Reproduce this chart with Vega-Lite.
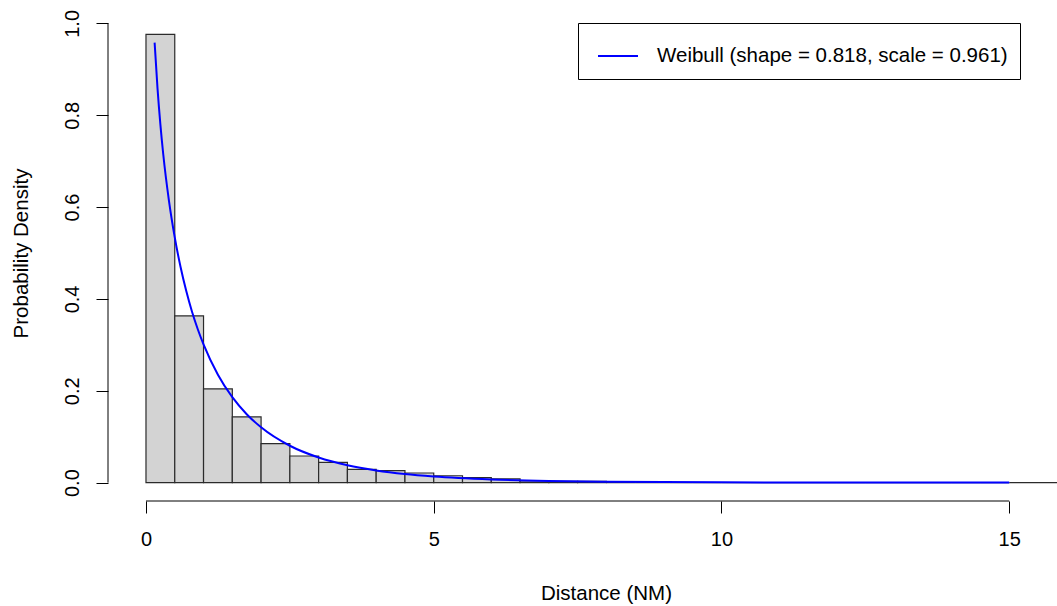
{
  "$schema": "https://vega.github.io/schema/vega-lite/v6.json",
  "width": 949,
  "height": 496,
  "autosize": {"type": "none"},
  "padding": {"left": 108, "top": 5, "right": 0, "bottom": 105},
  "background": "white",
  "config": {
    "view": {"stroke": null},
    "font": "Liberation Sans",
    "axis": {
      "grid": false,
      "domain": false,
      "tickColor": "#000",
      "tickWidth": 1,
      "tickSize": 12,
      "labelFont": "Liberation Sans",
      "labelFontSize": 20,
      "labelColor": "#000",
      "titleFont": "Liberation Sans",
      "titleFontSize": 20.5,
      "titleFontWeight": "normal",
      "titleColor": "#000"
    },
    "legend": {
      "orient": "none",
      "legendX": 470,
      "legendY": 18,
      "strokeColor": "#000",
      "fillColor": "white",
      "padding": 12,
      "symbolType": "stroke",
      "symbolSize": 1600,
      "symbolStrokeWidth": 2,
      "symbolOffset": 7,
      "labelOffset": 18,
      "labelFont": "Liberation Sans",
      "labelFontSize": 20.5,
      "labelColor": "#000",
      "labelLimit": 600
    }
  },
  "datasets": {
    "bins": [
      {"bin_start": 0.0, "bin_end": 0.5, "density": 0.976},
      {"bin_start": 0.5, "bin_end": 1.0, "density": 0.363},
      {"bin_start": 1.0, "bin_end": 1.5, "density": 0.204},
      {"bin_start": 1.5, "bin_end": 2.0, "density": 0.143},
      {"bin_start": 2.0, "bin_end": 2.5, "density": 0.085},
      {"bin_start": 2.5, "bin_end": 3.0, "density": 0.058},
      {"bin_start": 3.0, "bin_end": 3.5, "density": 0.044},
      {"bin_start": 3.5, "bin_end": 4.0, "density": 0.029},
      {"bin_start": 4.0, "bin_end": 4.5, "density": 0.026},
      {"bin_start": 4.5, "bin_end": 5.0, "density": 0.021},
      {"bin_start": 5.0, "bin_end": 5.5, "density": 0.015},
      {"bin_start": 5.5, "bin_end": 6.0, "density": 0.011},
      {"bin_start": 6.0, "bin_end": 6.5, "density": 0.008},
      {"bin_start": 6.5, "bin_end": 7.0, "density": 0.0035},
      {"bin_start": 7.0, "bin_end": 7.5, "density": 0.003},
      {"bin_start": 7.5, "bin_end": 8.0, "density": 0.003},
      {"bin_start": 8.0, "bin_end": 8.5, "density": 0},
      {"bin_start": 8.5, "bin_end": 9.0, "density": 0},
      {"bin_start": 9.0, "bin_end": 9.5, "density": 0},
      {"bin_start": 9.5, "bin_end": 10.0, "density": 0},
      {"bin_start": 10.0, "bin_end": 10.5, "density": 0},
      {"bin_start": 10.5, "bin_end": 11.0, "density": 0},
      {"bin_start": 11.0, "bin_end": 11.5, "density": 0},
      {"bin_start": 11.5, "bin_end": 12.0, "density": 0},
      {"bin_start": 12.0, "bin_end": 12.5, "density": 0},
      {"bin_start": 12.5, "bin_end": 13.0, "density": 0},
      {"bin_start": 13.0, "bin_end": 13.5, "density": 0},
      {"bin_start": 13.5, "bin_end": 14.0, "density": 0},
      {"bin_start": 14.0, "bin_end": 14.5, "density": 0},
      {"bin_start": 14.5, "bin_end": 15.0, "density": 0},
      {"bin_start": 15.0, "bin_end": 15.5, "density": 0},
      {"bin_start": 15.5, "bin_end": 16.0, "density": 0},
      {"bin_start": 16.0, "bin_end": 16.5, "density": 0}
    ],
    "curve": [
      {"distance": 0.15, "density": 0.958, "series": "Weibull (shape = 0.818, scale = 0.961)"},
      {"distance": 0.2, "density": 0.859, "series": "Weibull (shape = 0.818, scale = 0.961)"},
      {"distance": 0.25, "density": 0.780, "series": "Weibull (shape = 0.818, scale = 0.961)"},
      {"distance": 0.3, "density": 0.715, "series": "Weibull (shape = 0.818, scale = 0.961)"},
      {"distance": 0.4, "density": 0.613, "series": "Weibull (shape = 0.818, scale = 0.961)"},
      {"distance": 0.5, "density": 0.534, "series": "Weibull (shape = 0.818, scale = 0.961)"},
      {"distance": 0.6, "density": 0.470, "series": "Weibull (shape = 0.818, scale = 0.961)"},
      {"distance": 0.7, "density": 0.417, "series": "Weibull (shape = 0.818, scale = 0.961)"},
      {"distance": 0.8, "density": 0.372, "series": "Weibull (shape = 0.818, scale = 0.961)"},
      {"distance": 0.9, "density": 0.334, "series": "Weibull (shape = 0.818, scale = 0.961)"},
      {"distance": 1.0, "density": 0.301, "series": "Weibull (shape = 0.818, scale = 0.961)"},
      {"distance": 1.25, "density": 0.235, "series": "Weibull (shape = 0.818, scale = 0.961)"},
      {"distance": 1.5, "density": 0.186, "series": "Weibull (shape = 0.818, scale = 0.961)"},
      {"distance": 1.75, "density": 0.149, "series": "Weibull (shape = 0.818, scale = 0.961)"},
      {"distance": 2.0, "density": 0.1205, "series": "Weibull (shape = 0.818, scale = 0.961)"},
      {"distance": 2.5, "density": 0.0803, "series": "Weibull (shape = 0.818, scale = 0.961)"},
      {"distance": 3.0, "density": 0.0547, "series": "Weibull (shape = 0.818, scale = 0.961)"},
      {"distance": 3.5, "density": 0.0378, "series": "Weibull (shape = 0.818, scale = 0.961)"},
      {"distance": 4.0, "density": 0.0265, "series": "Weibull (shape = 0.818, scale = 0.961)"},
      {"distance": 4.5, "density": 0.0187, "series": "Weibull (shape = 0.818, scale = 0.961)"},
      {"distance": 5.0, "density": 0.0134, "series": "Weibull (shape = 0.818, scale = 0.961)"},
      {"distance": 6.0, "density": 0.0070, "series": "Weibull (shape = 0.818, scale = 0.961)"},
      {"distance": 7.0, "density": 0.0037, "series": "Weibull (shape = 0.818, scale = 0.961)"},
      {"distance": 8.0, "density": 0.0020, "series": "Weibull (shape = 0.818, scale = 0.961)"},
      {"distance": 10.0, "density": 0.0006, "series": "Weibull (shape = 0.818, scale = 0.961)"},
      {"distance": 12.0, "density": 0.0002, "series": "Weibull (shape = 0.818, scale = 0.961)"},
      {"distance": 15.0, "density": 0.00002, "series": "Weibull (shape = 0.818, scale = 0.961)"}
    ]
  },
  "layer": [
    {
      "data": {"name": "bins"},
      "mark": {"type": "rect", "fill": "#D3D3D3", "stroke": "#2b2b2b", "strokeWidth": 1.2, "clip": true},
      "encoding": {
        "x": {
          "field": "bin_start", "type": "quantitative",
          "scale": {"domain": [-0.66, 15.83], "nice": false, "zero": false},
          "axis": {"values": [0, 5, 10, 15], "format": "d", "title": "Distance (NM)", "labelPadding": 16, "titlePadding": 34, "titleX": 498, "titleAnchor": "middle"}
        },
        "x2": {"field": "bin_end"},
        "y": {
          "field": "density", "type": "quantitative",
          "scale": {"domain": [-0.04, 1.04], "nice": false, "zero": false},
          "axis": {"values": [0, 0.2, 0.4, 0.6, 0.8, 1.0], "format": ".1f", "title": "Probability Density", "labelAngle": 270, "labelAlign": "center", "labelBaseline": "bottom", "labelPadding": 14, "titlePadding": 31}
        },
        "y2": {"datum": 0}
      }
    },
    {
      "data": {"name": "curve"},
      "mark": {"type": "line", "strokeWidth": 2, "interpolate": "monotone", "clip": true},
      "encoding": {
        "x": {"field": "distance", "type": "quantitative"},
        "y": {"field": "density", "type": "quantitative"},
        "color": {
          "field": "series", "type": "nominal",
          "scale": {"range": ["#0000FF"]},
          "legend": {"title": null}
        }
      }
    },
    {
      "data": {"values": [{}]},
      "mark": {"type": "rule", "color": "#000", "strokeWidth": 1},
      "encoding": {
        "x": {"datum": 0},
        "x2": {"datum": 15},
        "y": {"datum": -0.04}
      }
    },
    {
      "data": {"values": [{}]},
      "mark": {"type": "rule", "color": "#000", "strokeWidth": 1},
      "encoding": {
        "x": {"datum": -0.66},
        "y": {"datum": 0},
        "y2": {"datum": 1}
      }
    }
  ]
}
